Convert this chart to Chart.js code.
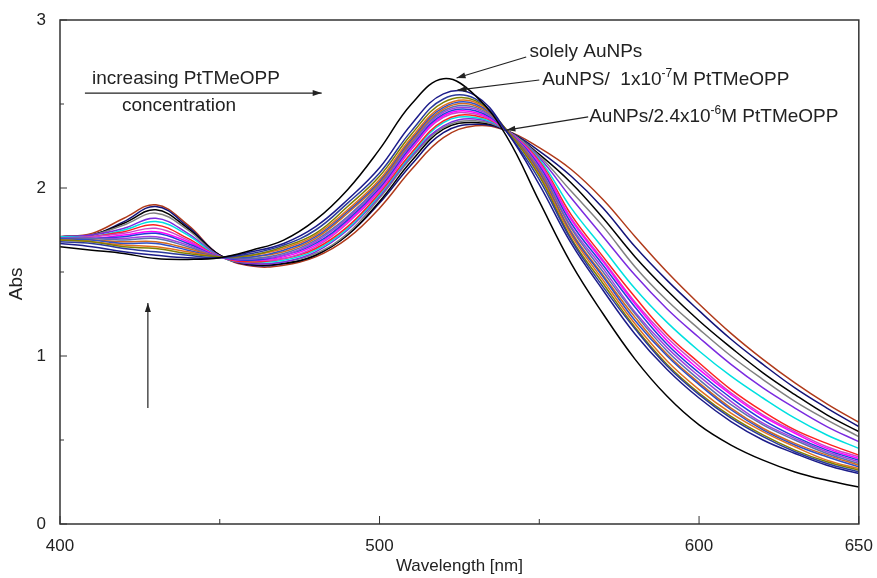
<!DOCTYPE html>
<html>
<head>
<meta charset="utf-8">
<script src="https://cdn.jsdelivr.net/npm/chart.js@4.4.0/dist/chart.umd.min.js"></script>
<style>
    body { margin: 0; background: #fff; }
    canvas { display: block; }
</style>
</head>
<body>
<canvas id="myChart" width="877" height="578"></canvas>
<script>
// wavelengths, nm
const wavelengths = [400, 410, 420, 430, 440, 450, 460, 470, 480, 490, 500, 510, 520, 530, 540, 550, 560, 570, 580, 590, 600, 610, 620, 630, 640, 650];

// absorbance of each titration step
const absAuNPs = [1.65, 1.63, 1.61, 1.58, 1.575, 1.585, 1.63, 1.69, 1.81, 1.99, 2.23, 2.50, 2.65, 2.55, 2.30, 1.92, 1.55, 1.25, 0.98, 0.76, 0.59, 0.47, 0.38, 0.31, 0.26, 0.22];
const absStep1 = [1.67, 1.65, 1.62, 1.60, 1.585, 1.585, 1.62, 1.67, 1.77, 1.93, 2.12, 2.38, 2.56, 2.55, 2.33, 2.02, 1.67, 1.39, 1.13, 0.92, 0.75, 0.61, 0.50, 0.42, 0.35, 0.30];
const absStep2 = [1.68, 1.67, 1.64, 1.62, 1.60, 1.585, 1.61, 1.66, 1.75, 1.91, 2.09, 2.34, 2.53, 2.53, 2.33, 2.05, 1.69, 1.41, 1.16, 0.94, 0.77, 0.63, 0.52, 0.43, 0.36, 0.31];
const absStep3 = [1.69, 1.68, 1.65, 1.64, 1.61, 1.59, 1.60, 1.65, 1.73, 1.89, 2.07, 2.32, 2.51, 2.52, 2.34, 2.07, 1.70, 1.43, 1.17, 0.95, 0.78, 0.64, 0.53, 0.44, 0.37, 0.32];
const absStep4 = [1.69, 1.68, 1.66, 1.65, 1.62, 1.59, 1.60, 1.64, 1.72, 1.87, 2.05, 2.30, 2.49, 2.51, 2.34, 2.08, 1.72, 1.45, 1.19, 0.97, 0.80, 0.66, 0.55, 0.46, 0.38, 0.33];
const absStep5 = [1.70, 1.69, 1.67, 1.67, 1.63, 1.59, 1.59, 1.63, 1.71, 1.86, 2.04, 2.29, 2.48, 2.50, 2.34, 2.09, 1.73, 1.47, 1.21, 1.00, 0.83, 0.68, 0.56, 0.47, 0.40, 0.34];
const absStep6 = [1.70, 1.69, 1.68, 1.68, 1.64, 1.59, 1.59, 1.62, 1.70, 1.85, 2.03, 2.28, 2.47, 2.49, 2.34, 2.10, 1.74, 1.48, 1.23, 1.01, 0.84, 0.69, 0.57, 0.48, 0.41, 0.35];
const absStep7 = [1.70, 1.70, 1.69, 1.70, 1.65, 1.59, 1.58, 1.61, 1.69, 1.83, 2.02, 2.27, 2.46, 2.48, 2.34, 2.11, 1.76, 1.50, 1.25, 1.03, 0.86, 0.71, 0.59, 0.50, 0.42, 0.36];
const absStep8 = [1.70, 1.70, 1.70, 1.71, 1.66, 1.59, 1.58, 1.60, 1.68, 1.82, 2.01, 2.26, 2.45, 2.47, 2.34, 2.12, 1.77, 1.52, 1.26, 1.05, 0.88, 0.73, 0.60, 0.51, 0.43, 0.37];
const absStep9 = [1.70, 1.70, 1.71, 1.73, 1.67, 1.59, 1.57, 1.60, 1.67, 1.81, 2.00, 2.25, 2.44, 2.46, 2.34, 2.13, 1.79, 1.54, 1.29, 1.07, 0.90, 0.75, 0.62, 0.52, 0.44, 0.38];
const absStep10 = [1.70, 1.70, 1.72, 1.74, 1.68, 1.59, 1.57, 1.59, 1.66, 1.80, 1.99, 2.24, 2.43, 2.45, 2.34, 2.14, 1.81, 1.56, 1.31, 1.09, 0.92, 0.77, 0.64, 0.54, 0.45, 0.39];
const absStep11 = [1.70, 1.71, 1.73, 1.76, 1.69, 1.59, 1.57, 1.58, 1.65, 1.79, 1.98, 2.23, 2.42, 2.44, 2.34, 2.15, 1.82, 1.57, 1.32, 1.11, 0.94, 0.78, 0.65, 0.55, 0.46, 0.40];
const absStep12 = [1.70, 1.71, 1.74, 1.78, 1.70, 1.59, 1.56, 1.58, 1.64, 1.77, 1.97, 2.21, 2.40, 2.43, 2.34, 2.16, 1.84, 1.59, 1.35, 1.13, 0.96, 0.80, 0.67, 0.56, 0.48, 0.41];
const absStep13 = [1.71, 1.71, 1.75, 1.80, 1.72, 1.59, 1.56, 1.57, 1.63, 1.76, 1.96, 2.20, 2.39, 2.42, 2.34, 2.17, 1.88, 1.64, 1.40, 1.20, 1.03, 0.88, 0.75, 0.63, 0.53, 0.45];
const absStep14 = [1.71, 1.72, 1.76, 1.82, 1.73, 1.595, 1.55, 1.56, 1.62, 1.75, 1.95, 2.19, 2.37, 2.41, 2.34, 2.18, 1.94, 1.71, 1.48, 1.28, 1.11, 0.95, 0.81, 0.69, 0.58, 0.49];
const absStep15 = [1.71, 1.72, 1.78, 1.85, 1.75, 1.595, 1.55, 1.56, 1.61, 1.73, 1.94, 2.18, 2.36, 2.40, 2.34, 2.19, 1.98, 1.77, 1.53, 1.33, 1.16, 1.00, 0.86, 0.73, 0.62, 0.52];
const absStep16 = [1.71, 1.72, 1.79, 1.87, 1.76, 1.60, 1.545, 1.55, 1.60, 1.72, 1.92, 2.16, 2.35, 2.39, 2.34, 2.20, 2.03, 1.82, 1.59, 1.39, 1.21, 1.05, 0.90, 0.77, 0.65, 0.55];
const absStep17 = [1.71, 1.72, 1.80, 1.89, 1.77, 1.60, 1.54, 1.55, 1.60, 1.72, 1.91, 2.14, 2.33, 2.38, 2.34, 2.22, 2.07, 1.88, 1.65, 1.45, 1.27, 1.10, 0.95, 0.81, 0.69, 0.58];
const absFinal = [1.71, 1.73, 1.82, 1.90, 1.78, 1.60, 1.535, 1.54, 1.59, 1.70, 1.88, 2.11, 2.30, 2.37, 2.34, 2.24, 2.11, 1.93, 1.71, 1.50, 1.31, 1.135, 0.98, 0.84, 0.715, 0.605];

const spectra = [absAuNPs, absStep1, absStep2, absStep3, absStep4, absStep5, absStep6, absStep7, absStep8, absStep9,
    absStep10, absStep11, absStep12, absStep13, absStep14, absStep15, absStep16, absStep17, absFinal];

const lineColors = ['#000000', '#1c1c8a', '#2b3a9c', '#7f7f00', '#e07020', '#3050c8', '#d2691e', '#5b6fb0', '#a040e0', '#1f3fd8',
    '#ff00ff', '#cc44cc', '#ff2020', '#00e0e0', '#7b2be0', '#808080', '#000000', '#14147a', '#b03a1a'];

const xTicks = [400, 450, 500, 550, 600, 650];
const xLabels = [400, 500, 600, 650];
const yTicks = [0, 0.5, 1, 1.5, 2, 2.5, 3];
const yLabels = [0, 1, 2, 3];

const FONT = '"Liberation Sans", Arial, sans-serif';

function makeDataset(values, i) {
    return {
        data: values.map((v, k) => ({ x: wavelengths[k], y: v })),
        borderColor: lineColors[i],
        borderWidth: 1.5,
        pointRadius: 0,
        fill: false,
        tension: 0.4
    };
}

// frame and inward ticks
const framePlugin = {
    id: 'frame',
    afterDatasetsDraw(chart) {
        const ctx = chart.ctx;
        const a = chart.chartArea;
        const xs = chart.scales.x;
        const ys = chart.scales.y;
        ctx.save();
        ctx.strokeStyle = '#333';
        ctx.lineWidth = 1.5;
        ctx.strokeRect(a.left, a.top, a.right - a.left, a.bottom - a.top);
        ctx.lineWidth = 1;
        ctx.beginPath();
        xTicks.forEach(t => {
            const px = xs.getPixelForValue(t);
            const len = xLabels.includes(t) ? 8 : 5;
            ctx.moveTo(px, a.bottom);
            ctx.lineTo(px, a.bottom - len);
        });
        yTicks.forEach(t => {
            const py = ys.getPixelForValue(t);
            const len = yLabels.includes(t) ? 7 : 4;
            ctx.moveTo(a.left, py);
            ctx.lineTo(a.left + len, py);
        });
        ctx.stroke();
        ctx.restore();
    }
};

function arrow(ctx, x1, y1, x2, y2) {
    const ang = Math.atan2(y2 - y1, x2 - x1);
    ctx.beginPath();
    ctx.moveTo(x1, y1);
    ctx.lineTo(x2, y2);
    ctx.stroke();
    ctx.beginPath();
    ctx.moveTo(x2, y2);
    ctx.lineTo(x2 - 9 * Math.cos(ang) + 3 * Math.sin(ang), y2 - 9 * Math.sin(ang) - 3 * Math.cos(ang));
    ctx.lineTo(x2 - 9 * Math.cos(ang) - 3 * Math.sin(ang), y2 - 9 * Math.sin(ang) + 3 * Math.cos(ang));
    ctx.closePath();
    ctx.fill();
}

// text with a superscript part: [normal, sup, normal]
function supText(ctx, x, y, parts) {
    ctx.font = '19px ' + FONT;
    ctx.fillText(parts[0], x, y);
    x += ctx.measureText(parts[0]).width;
    ctx.font = '12px ' + FONT;
    ctx.fillText(parts[1], x, y - 6);
    x += ctx.measureText(parts[1]).width;
    ctx.font = '19px ' + FONT;
    ctx.fillText(parts[2], x, y);
}

const notesPlugin = {
    id: 'notes',
    afterDraw(chart) {
        const ctx = chart.ctx;
        const xs = chart.scales.x;
        const ys = chart.scales.y;
        const X = v => xs.getPixelForValue(v);
        const Y = v => ys.getPixelForValue(v);
        ctx.save();
        ctx.fillStyle = '#222';
        ctx.strokeStyle = '#222';
        ctx.lineWidth = 1.2;
        ctx.textBaseline = 'middle';
        ctx.textAlign = 'left';
        ctx.font = '19px ' + FONT;

        ctx.fillText('increasing PtTMeOPP', X(410), Y(2.649));
        ctx.fillText('concentration', X(419.4), Y(2.488));
        arrow(ctx, X(407.8), Y(2.565), X(481.9), Y(2.565));
        arrow(ctx, X(427.5), Y(0.69), X(427.5), Y(1.315));

        ctx.fillText('solely AuNPs', X(546.9), Y(2.81));
        arrow(ctx, X(545.9), Y(2.78), X(524.1), Y(2.655));

        supText(ctx, X(550.9), Y(2.643), ['AuNPS/  1x10', '-7', 'M PtTMeOPP']);
        arrow(ctx, X(550), Y(2.643), X(524.4), Y(2.583));

        supText(ctx, X(565.6), Y(2.423), ['AuNPs/2.4x10', '-6', 'M PtTMeOPP']);
        arrow(ctx, X(565.3), Y(2.423), X(539.7), Y(2.345));

        // y axis title
        ctx.translate(17, Y(1.43));
        ctx.rotate(-Math.PI / 2);
        ctx.textAlign = 'center';
        ctx.font = '19px ' + FONT;
        ctx.fillText('Abs', 0, 0);
        ctx.restore();
    }
};

const ctx = document.getElementById('myChart');
const myChart = new Chart(ctx, {
    type: 'line',
    data: { datasets: spectra.map(makeDataset) },
    options: {
        responsive: false,
        animation: false,
        layout: { padding: { top: 20, right: 16, left: 0, bottom: 0 } },
        plugins: { legend: { display: false }, tooltip: { enabled: false } },
        scales: {
            x: {
                type: 'linear',
                min: 400,
                max: 650,
                afterBuildTicks: s => { s.ticks = xTicks.map(v => ({ value: v })); },
                afterFit: s => { s.height = 54; },
                grid: { display: false },
                border: { display: false },
                ticks: {
                    color: '#222',
                    font: { size: 17, family: FONT },
                    padding: 4,
                    maxRotation: 0,
                    autoSkip: false,
                    callback: v => xLabels.includes(v) ? String(v) : ''
                },
                title: { display: true, text: 'Wavelength [nm]', color: '#222', font: { size: 17, family: FONT }, padding: { top: 0, bottom: 1 } }
            },
            y: {
                min: 0,
                max: 3,
                afterBuildTicks: s => { s.ticks = yTicks.map(v => ({ value: v })); },
                afterFit: s => { s.width = 60; },
                grid: { display: false },
                border: { display: false },
                ticks: {
                    color: '#222',
                    font: { size: 17, family: FONT },
                    padding: 6,
                    autoSkip: false,
                    callback: v => yLabels.includes(v) ? String(v) : ''
                }
            }
        }
    },
    plugins: [framePlugin, notesPlugin]
});
</script>
</body>
</html>
